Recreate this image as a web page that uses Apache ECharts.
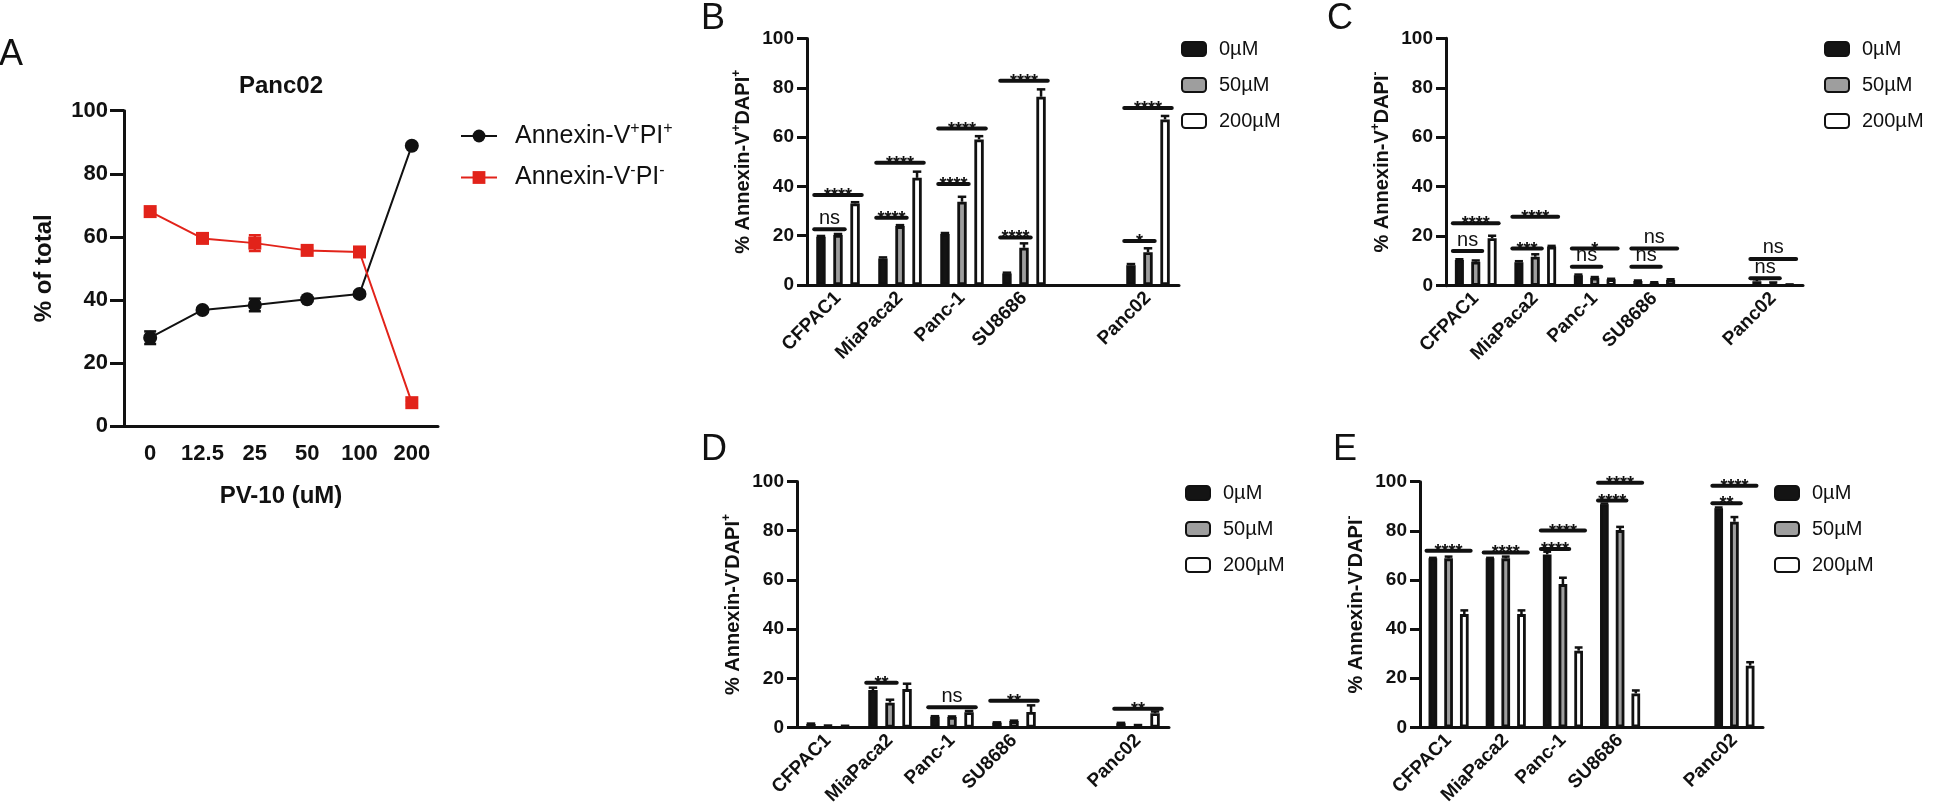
<!DOCTYPE html>
<html><head><meta charset="utf-8">
<script src="https://cdn.jsdelivr.net/npm/echarts@6/dist/echarts.min.js"></script>
<style>html,body{margin:0;padding:0;background:#fff}#c{width:1946px;height:812px}</style>
</head><body><div id="c"></div>
<script>
// ---------- Panel A data ----------
const doses = ['0', '12.5', '25', '50', '100', '200'];
const seriesA = ['Annexin-V+PI+', 'Annexin-V-PI-'];
const apBoth = [28.0, 36.8, 38.4, 40.2, 41.9, 88.9];
const apBothErr = [2.0, 0.6, 2.0, 0.6, 0.6, 0.6];
const apNeither = [68.0, 59.5, 58.0, 55.7, 55.2, 7.4];
const apNeitherErr = [0.6, 0.6, 2.5, 0.6, 0.6, 0.6];

// ---------- Bar panels ----------
const cellLines = ['CFPAC1', 'MiaPaca2', 'Panc-1', 'SU8686', '', 'Panc02'];
const concentrations = ['0µM', '50µM', '200µM'];

// Panel B: % Annexin-V+DAPI+
const b0 = [19.6, 10.8, 20.7, 4.7, null, 8.0];
const b50 = [20.3, 23.9, 33.8, 15.1, null, 13.3];
const b200 = [33.1, 43.5, 59.1, 76.4, null, 67.2];
const b0Err = [0.3, 0.4, 0.4, 0.3, null, 0.5];
const b50Err = [0.4, 0.4, 2.0, 1.8, null, 1.6];
const b200Err = [0.5, 2.5, 1.3, 3.0, null, 1.4];
const bSig = [[0, 0, 1, 22.6, 'ns'], [0, 0, 2, 36.5, '****'], [1, 0, 1, 27.3, '****'], [1, 0, 2, 49.6, '****'],
  [2, 0, 1, 41.0, '****'], [2, 0, 2, 63.5, '****'], [3, 0, 1, 19.3, '****'], [3, 0, 2, 82.9, '****'],
  [5, 0, 1, 17.9, '*'], [5, 0, 2, 71.8, '****']];

// Panel C: % Annexin-V+DAPI-
const c0 = [10.4, 9.5, 4.2, 1.9, null, 1.8];
const c50 = [9.7, 11.7, 3.2, 1.2, null, 1.0];
const c200 = [19.2, 15.8, 2.6, 2.3, null, 0.4];
const c0Err = [0.3, 0.4, 0.3, 0.2, null, 0.8];
const c50Err = [0.5, 1.0, 0.3, 0.2, null, 0.3];
const c200Err = [1.0, 0.3, 0.2, 0.3, null, 0.1];
const cSig = [[0, 0, 1, 14.0, 'ns'], [0, 0, 2, 25.2, '****'], [1, 0, 1, 15.0, '***'], [1, 0, 2, 27.9, '****'],
  [2, 0, 1, 7.7, 'ns'], [2, 0, 2, 15.0, '*'], [3, 0, 1, 7.7, 'ns'], [3, 0, 2, 15.0, 'ns'],
  [5, 0, 1, 3.0, 'ns'], [5, 0, 2, 10.8, 'ns']];

// Panel D: % Annexin-V-DAPI+
const d0 = [1.4, 15.2, 4.4, 2.0, null, 1.7];
const d50 = [0.7, 10.1, 4.3, 2.6, null, 0.9];
const d200 = [0.6, 15.6, 6.2, 6.3, null, 5.8];
const d0Err = [0.2, 1.0, 0.2, 0.1, null, 0.2];
const d50Err = [0.1, 1.2, 0.2, 0.2, null, 0.1];
const d200Err = [0.1, 2.2, 0.5, 2.7, null, 0.7];
const dSig = [[1, 0, 1, 18.2, '**'], [2, 0, 2, 8.2, 'ns'], [3, 0, 2, 10.9, '**'], [5, 0, 2, 7.6, '**']];

// Panel E: % Annexin-V-DAPI-
const e0 = [68.8, 68.8, 70.4, 90.8, null, 89.2];
const e50 = [68.8, 68.8, 58.3, 80.3, null, 83.7];
const e200 = [46.1, 46.1, 31.2, 13.8, null, 25.1];
const e0Err = [0.2, 0.2, 1.1, 0.3, null, 0.3];
const e50Err = [0.7, 0.7, 2.6, 1.3, null, 1.9];
const e200Err = [1.5, 1.5, 1.3, 1.2, null, 1.4];
const eSig = [[0, 0, 2, 71.9, '****'], [1, 0, 2, 71.2, '****'], [2, 0, 1, 72.6, '****'], [2, 0, 2, 80.1, '****'],
  [3, 0, 1, 92.3, '****'], [3, 0, 2, 99.6, '****'], [5, 0, 1, 91.2, '**'], [5, 0, 2, 98.4, '****']];

// ---------- styling ----------
const FF = '"Liberation Sans", Arial, Helvetica, sans-serif';
const INK = '#111';
const BAR_W = 0.152;   // bar width as fraction of category band
const STEP = 0.275;    // centre-to-centre distance as fraction of band
const BORDER = 2.8;
const barFills = ['#141414', '#9e9e9e', '#ffffff'];

const grids = [
  {left: 124, top: 110.7, width: 314, height: 315.3},
  {left: 807, top: 38.6, width: 372, height: 246.4},
  {left: 1446, top: 38.3, width: 357, height: 247.4},
  {left: 797, top: 481.5, width: 372, height: 246},
  {left: 1420, top: 481.7, width: 343, height: 245.6}
];

function yRich(sz) {
  return {
    b: {fontSize: sz, fontWeight: 'bold', fontFamily: FF, color: INK, lineHeight: sz + 4},
    s: {fontSize: Math.round(sz * 0.62), fontWeight: 'bold', fontFamily: FF, color: INK, verticalAlign: 'top', lineHeight: sz * 0.62}
  };
}
function yAxis(gi, name, o) {
  return {
    type: 'value', gridIndex: gi, min: 0, max: 100, interval: 20,
    axisLine: {show: true, lineStyle: {color: INK, width: 3}},
    axisTick: {show: true, length: o.tick, lineStyle: {color: INK, width: 3}},
    axisLabel: {fontSize: o.fs, fontWeight: 'bold', color: INK, margin: o.margin, fontFamily: FF},
    splitLine: {show: false},
    name: name, nameLocation: 'middle', nameGap: o.gap,
    nameTextStyle: {rich: yRich(o.nfs)}
  };
}
function xAxisBar(gi) {
  return {
    type: 'category', gridIndex: gi, data: cellLines, boundaryGap: true,
    axisLine: {lineStyle: {color: INK, width: 3}},
    axisTick: {alignWithLabel: true, interval: 0, length: 11, lineStyle: {color: INK, width: 3}},
    axisLabel: {interval: 0, rotate: 45, fontSize: 19, fontWeight: 'bold', color: INK, margin: 10, fontFamily: FF}
  };
}
function barSeries(gi, k, data) {
  return {
    type: 'bar', name: concentrations[k], xAxisIndex: gi, yAxisIndex: gi, data: data,
    barWidth: (BAR_W * 100) + '%', barGap: ((STEP / BAR_W - 1) * 100) + '%',
    itemStyle: {color: barFills[k], borderColor: INK, borderWidth: BORDER},
    silent: true, z: 2
  };
}
function barErr(gi, k, vals, errs) {
  return {
    type: 'custom', xAxisIndex: gi, yAxisIndex: gi, silent: true, z: 3,
    data: vals.map((v, i) => v == null ? [i, null, null] : [i, v, errs[i]]),
    renderItem: function (params, api) {
      const v = api.value(1), e = api.value(2);
      if (v == null || isNaN(v)) return null;
      const i = api.value(0);
      const cw = api.size([1, 0])[0];
      const base = api.coord([i, v]);
      const x = base[0] + (k - 1) * STEP * cw;
      const topY = api.coord([i, v + e])[1];
      const cap = BAR_W * cw * 0.45;
      return {
        type: 'group', children: [
          {type: 'line', shape: {x1: x, y1: base[1], x2: x, y2: topY}, style: {stroke: INK, lineWidth: 2.5}},
          {type: 'line', shape: {x1: x - cap, y1: topY, x2: x + cap, y2: topY}, style: {stroke: INK, lineWidth: 2.5}}
        ]
      };
    }
  };
}
function sigSeries(gi, list) {
  return {
    type: 'custom', xAxisIndex: gi, yAxisIndex: gi, silent: true, z: 5,
    data: list.map(s => [s[0], s[3]]),
    renderItem: function (params, api) {
      const s = list[params.dataIndex];
      const cw = api.size([1, 0])[0];
      const c = api.coord([s[0], s[3]]);
      const half = BAR_W * cw / 2 + 2;
      const x1 = c[0] + (s[1] - 1) * STEP * cw - half;
      const x2 = c[0] + (s[2] - 1) * STEP * cw + half;
      const star = s[4].indexOf('*') >= 0;
      return {
        type: 'group', children: [
          {type: 'line', shape: {x1: x1, y1: c[1], x2: x2, y2: c[1]}, style: {stroke: INK, lineWidth: 4, lineCap: 'round'}},
          {type: 'text', style: {
            text: s[4], x: (x1 + x2) / 2, y: star ? c[1] + 10 : c[1] - 1,
            align: 'center', verticalAlign: 'bottom', fill: INK,
            font: star ? 'bold 18px ' + FF : '20px ' + FF
          }}
        ]
      };
    }
  };
}
function aErr(vals, errs, color) {
  return {
    type: 'custom', xAxisIndex: 0, yAxisIndex: 0, silent: true, z: 1,
    data: vals.map((v, i) => [i, v, errs[i]]),
    renderItem: function (params, api) {
      const i = api.value(0), v = api.value(1), e = api.value(2);
      const lo = api.coord([i, v - e]), hi = api.coord([i, v + e]);
      const cap = 6;
      return {
        type: 'group', children: [
          {type: 'line', shape: {x1: lo[0], y1: lo[1], x2: hi[0], y2: hi[1]}, style: {stroke: color, lineWidth: 2.5}},
          {type: 'line', shape: {x1: lo[0] - cap, y1: lo[1], x2: lo[0] + cap, y2: lo[1]}, style: {stroke: color, lineWidth: 2.5}},
          {type: 'line', shape: {x1: hi[0] - cap, y1: hi[1], x2: hi[0] + cap, y2: hi[1]}, style: {stroke: color, lineWidth: 2.5}}
        ]
      };
    }
  };
}
function barLegend(left, top) {
  return {
    data: concentrations, orient: 'vertical', left: left, top: top, padding: 0,
    itemWidth: 24, itemHeight: 14, itemGap: 16, selectedMode: false,
    textStyle: {fontSize: 20, color: INK, fontFamily: FF, lineHeight: 16, padding: [0, 0, 0, 8]}
  };
}
const panelLetter = (t, left, top) => ({text: t, left: left, top: top, padding: 0,
  textStyle: {fontSize: 36, fontWeight: 'normal', color: INK, fontFamily: FF}});

const series = [];
// Panel A
series.push(aErr(apBoth, apBothErr, INK));
series.push(aErr(apNeither, apNeitherErr, '#e2231a'));
series.push({name: seriesA[0], type: 'line', xAxisIndex: 0, yAxisIndex: 0, data: apBoth,
  symbol: 'circle', symbolSize: 14, itemStyle: {color: INK}, lineStyle: {color: INK, width: 2}, z: 3, silent: true});
series.push({name: seriesA[1], type: 'line', xAxisIndex: 0, yAxisIndex: 0, data: apNeither,
  symbol: 'rect', symbolSize: 13, itemStyle: {color: '#e2231a'}, lineStyle: {color: '#e2231a', width: 2}, z: 3, silent: true});

const panels = [
  [1, [b0, b50, b200], [b0Err, b50Err, b200Err], bSig],
  [2, [c0, c50, c200], [c0Err, c50Err, c200Err], cSig],
  [3, [d0, d50, d200], [d0Err, d50Err, d200Err], dSig],
  [4, [e0, e50, e200], [e0Err, e50Err, e200Err], eSig]
];
panels.forEach(p => {
  const gi = p[0];
  p[1].forEach((d, k) => series.push(barSeries(gi, k, d)));
  p[1].forEach((d, k) => series.push(barErr(gi, k, d, p[2][k])));
  series.push(sigSeries(gi, p[3]));
});

const supName = (a, b) => '{b|% Annexin-V}{s|' + a + '}{b|DAPI}{s|' + b + '}';
const barY = {tick: 10, fs: 19, margin: 13, gap: 52, nfs: 20};

const option = {
  animation: false,
  backgroundColor: '#fff',
  textStyle: {fontFamily: FF},
  title: [
    panelLetter('A', -1, 37),
    panelLetter('B', 701, 1),
    panelLetter('C', 1327, 1),
    panelLetter('D', 701, 432),
    panelLetter('E', 1333, 432),
    {text: 'Panc02', left: 281, top: 74, textAlign: 'center', padding: 0,
      textStyle: {fontSize: 24, fontWeight: 'bold', color: INK, fontFamily: FF}}
  ],
  grid: grids,
  xAxis: [
    {type: 'category', gridIndex: 0, data: doses, boundaryGap: true,
      axisLine: {lineStyle: {color: INK, width: 3}},
      axisTick: {alignWithLabel: true, interval: 0, length: 12, lineStyle: {color: INK, width: 3}},
      axisLabel: {interval: 0, fontSize: 22, fontWeight: 'bold', color: INK, margin: 17, fontFamily: FF},
      name: 'PV-10 (uM)', nameLocation: 'middle', nameGap: 58,
      nameTextStyle: {fontSize: 24, fontWeight: 'bold', color: INK, fontFamily: FF}},
    xAxisBar(1), xAxisBar(2), xAxisBar(3), xAxisBar(4)
  ],
  yAxis: [
    Object.assign(yAxis(0, '% of total', {tick: 14, fs: 22, margin: 16, gap: 68, nfs: 24}),
      {nameTextStyle: {fontSize: 24, fontWeight: 'bold', color: INK, fontFamily: FF}}),
    yAxis(1, supName('+', '+'), barY),
    yAxis(2, supName('+', '-'), barY),
    yAxis(3, supName('-', '+'), barY),
    yAxis(4, supName('-', '-'), barY)
  ],
  legend: [
    {data: seriesA, orient: 'vertical', left: 460, top: 121, padding: 0,
      itemWidth: 36, itemHeight: 16, itemGap: 14, selectedMode: false,
      formatter: function (n) {
        return n === seriesA[0] ? '{t|Annexin-V}{s|+}{t|PI}{s|+}' : '{t|Annexin-V}{s|-}{t|PI}{s|-}';
      },
      textStyle: {padding: [0, 0, 0, 13], rich: {
        t: {fontSize: 25, color: INK, fontFamily: FF, lineHeight: 30},
        s: {fontSize: 16, color: INK, fontFamily: FF, verticalAlign: 'top', lineHeight: 16}
      }}},
    barLegend(1181, 39),
    barLegend(1824, 39),
    barLegend(1185, 483),
    barLegend(1774, 483)
  ],
  series: series
};
const chart = echarts.init(document.getElementById('c'), null, {renderer: 'canvas'});
chart.setOption(option);
</script>
</body></html>
